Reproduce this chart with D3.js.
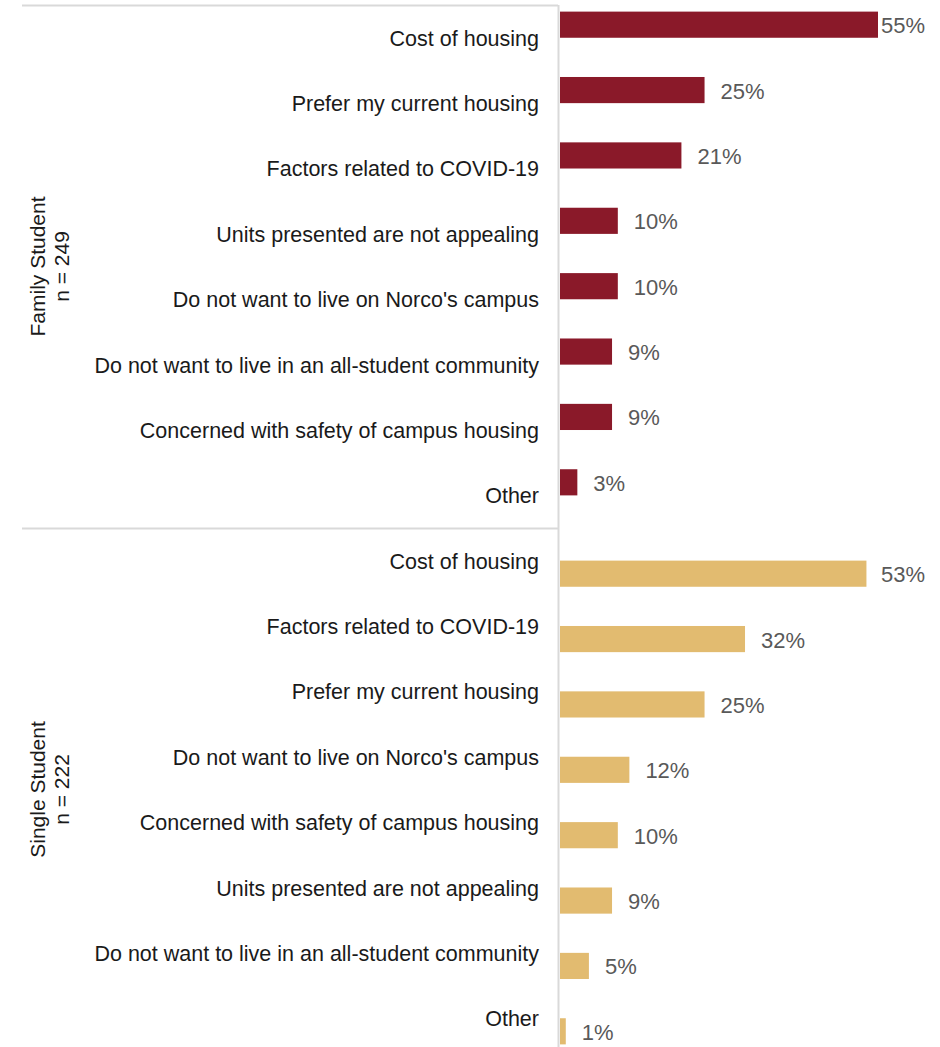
<!DOCTYPE html>
<html>
<head>
<meta charset="utf-8">
<script src="https://cdn.jsdelivr.net/npm/d3@7"></script>
<style>
  body { margin: 0; background: #fff; }
  svg { display: block; }
</style>
</head>
<body>
<script>
// data
const familyCats = ["Cost of housing", "Prefer my current housing", "Factors related to COVID-19",
    "Units presented are not appealing", "Do not want to live on Norco's campus",
    "Do not want to live in an all-student community", "Concerned with safety of campus housing", "Other"];
const familyVals = [55, 25, 21, 10, 10, 9, 9, 3];

const singleCats = ["Cost of housing", "Factors related to COVID-19", "Prefer my current housing",
    "Do not want to live on Norco's campus", "Concerned with safety of campus housing",
    "Units presented are not appealing", "Do not want to live in an all-student community", "Other"];
const singleVals = [53, 32, 25, 12, 10, 9, 5, 1];

const panelTitles = [["Family Student", "n = 249"], ["Single Student", "n = 222"]];

const width = 940, height = 1047;
const axisX = 558;

const svg = d3.select("body")
    .append("svg")
    .attr("width", width)
    .attr("height", height);

const x = d3.scaleLinear()
    .domain([0, 55])
    .range([560, 878]);

// bars sit above the label in the top panel, below it in the bottom one
// (bottom panel runs a little past the page edge, like the original)
const panels = [
    {cats: familyCats, vals: familyVals, color: "#8a1929", top: 5, bottom: 528, shift: -13, title: panelTitles[0]},
    {cats: singleCats, vals: singleVals, color: "#e2bb70", top: 528, bottom: 1051, shift: 13, title: panelTitles[1]}
];

// grid lines
svg.append("line")
    .attr("x1", 22).attr("x2", axisX)
    .attr("y1", 5.5).attr("y2", 5.5)
    .attr("stroke", "#d9d9d9").attr("stroke-width", 2);
svg.append("line")
    .attr("x1", 22).attr("x2", axisX)
    .attr("y1", 528.5).attr("y2", 528.5)
    .attr("stroke", "#d9d9d9").attr("stroke-width", 2);

panels.forEach(p => {
    const data = p.cats.map((c, i) => ({cat: c, val: p.vals[i]}));
    const y = d3.scaleBand()
        .domain(p.cats)
        .range([p.top, p.bottom])
        .paddingInner(0.6)
        .paddingOuter(0.3);
    const g = svg.append("g");

    // bars
    g.selectAll("rect")
        .data(data)
        .join("rect")
        .attr("x", x(0))
        .attr("y", d => y(d.cat) + p.shift)
        .attr("width", d => x(d.val) - x(0))
        .attr("height", y.bandwidth())
        .attr("fill", p.color);

    // category labels
    g.selectAll("text.cat")
        .data(data)
        .join("text")
        .attr("class", "cat")
        .attr("x", 539)
        .attr("y", d => y(d.cat) + y.bandwidth() / 2 + 1)
        .attr("text-anchor", "end")
        .attr("dominant-baseline", "central")
        .style("font-family", "'Liberation Sans Narrow', 'Liberation Sans', sans-serif")
        .style("font-size", "21.5px")
        .style("fill", "#1a1a1a")
        .text(d => d.cat);

    // value labels
    g.selectAll("text.val")
        .data(data)
        .join("text")
        .attr("class", "val")
        .attr("y", d => y(d.cat) + p.shift + y.bandwidth() / 2 + 1)
        .attr("dominant-baseline", "central")
        .style("font-family", "'Liberation Sans', sans-serif")
        .style("font-size", "22px")
        .style("fill", "#595959")
        .text(d => d.val + "%")
        .attr("x", function (d) {
            const w = this.getComputedTextLength();
            return Math.min(x(d.val) + 16, 925 - w);
        });

    // panel title
    const cy = (p.top + p.bottom) / 2;
    const t = svg.append("text")
        .attr("transform", `translate(45, ${cy}) rotate(-90)`)
        .attr("text-anchor", "middle")
        .style("font-family", "'Liberation Sans', sans-serif")
        .style("font-size", "21px")
        .style("fill", "#1a1a1a");
    t.append("tspan").attr("x", 0).attr("dy", 0).text(p.title[0]);
    t.append("tspan").attr("x", 0).attr("dy", 24).text(p.title[1]);
});

// vertical axis line
svg.append("line")
    .attr("x1", axisX + 0.5).attr("x2", axisX + 0.5)
    .attr("y1", 5).attr("y2", height)
    .attr("stroke", "#d9d9d9").attr("stroke-width", 2);
</script>
</body>
</html>
